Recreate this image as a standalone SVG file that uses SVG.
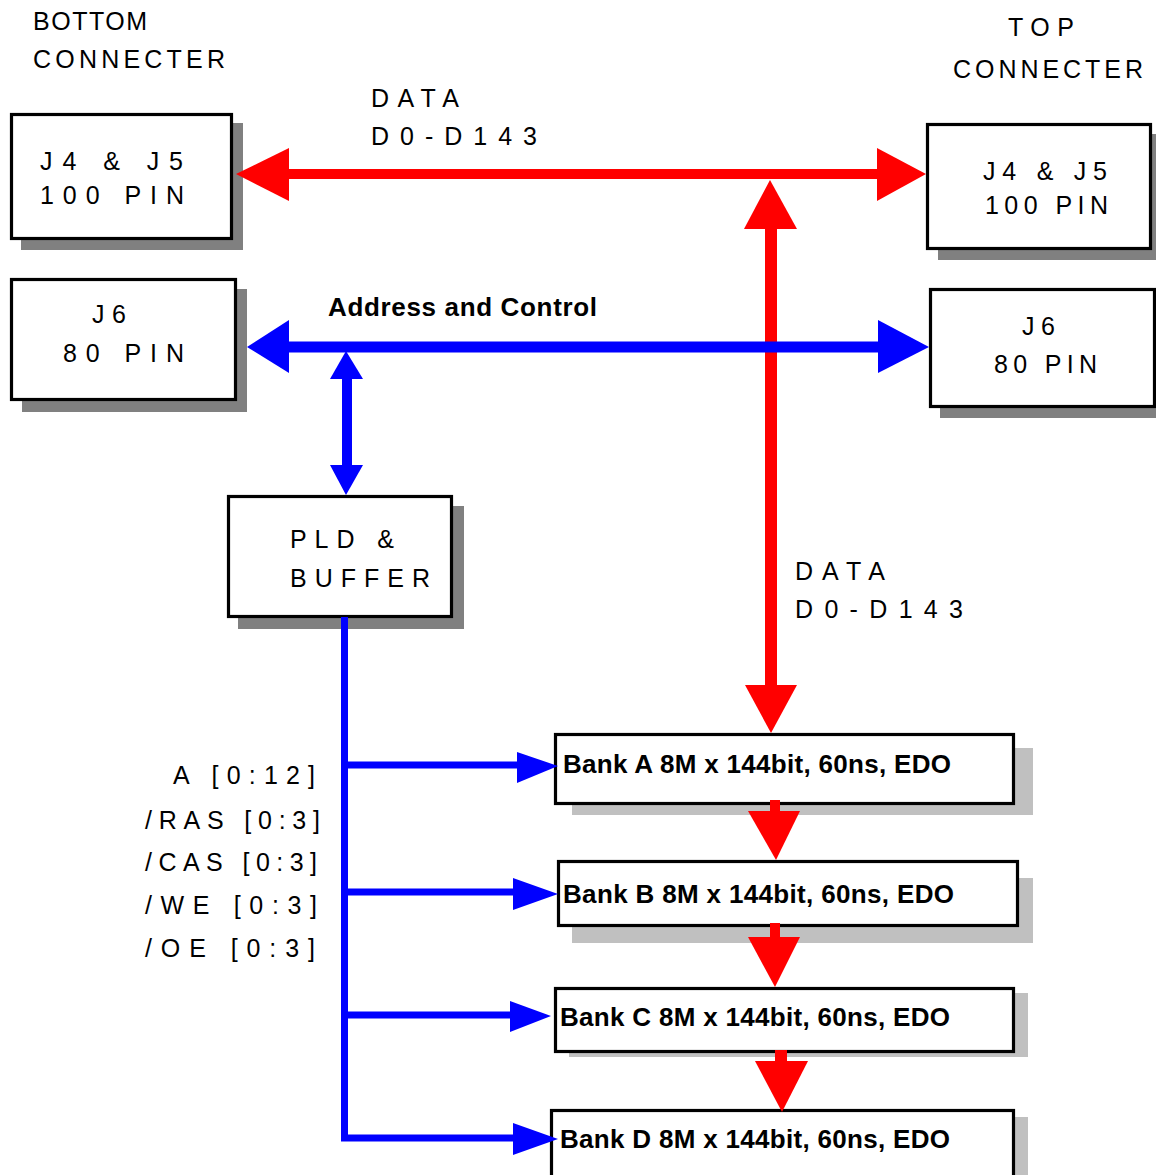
<svg xmlns="http://www.w3.org/2000/svg" width="1156" height="1175" viewBox="0 0 1156 1175">
<style>
.lbl{font-family:"Liberation Sans Narrow","Liberation Sans",Arial,sans-serif;font-size:25px;fill:#000}
.bold{font-family:"Liberation Sans",Arial,sans-serif;font-weight:bold;fill:#000}
.box{fill:#fff;stroke:#000;stroke-width:3.2}
.sh1{fill:#808080}
.sh2{fill:#c0c0c0}
.red{fill:#ff0000}
.blue{fill:#0000ff}
.rl{stroke:#ff0000;fill:none}
.bl{stroke:#0000ff;fill:none}
</style>
<rect width="1156" height="1175" fill="#fff"/>

<g id="title-bottom">
<text class="lbl" x="33" y="30" textLength="114">BOTTOM</text>
<text class="lbl" x="33" y="68" textLength="192">CONNECTER</text>
</g>
<g id="title-top">
<text class="lbl" x="1008" y="36" textLength="66">TOP</text>
<text class="lbl" x="953" y="78" textLength="190">CONNECTER</text>
</g>

<g id="bottom-j4j5">
<rect class="sh1" x="21" y="123" width="222" height="127"/>
<rect class="box" x="11.5" y="114.5" width="220" height="124"/>
<text class="lbl" x="40" y="170" textLength="143">J4 &amp; J5</text>
<text class="lbl" x="40" y="204" textLength="144">100 PIN</text>
</g>

<g id="top-j4j5">
<rect class="sh1" x="938" y="134" width="218" height="126"/>
<rect class="box" x="927.5" y="124.5" width="223" height="124"/>
<text class="lbl" x="983" y="180" textLength="124">J4 &amp; J5</text>
<text class="lbl" x="985" y="214" textLength="123">100 PIN</text>
</g>

<g id="bottom-j6">
<rect class="sh1" x="22" y="289" width="225" height="123"/>
<rect class="box" x="11.5" y="279.5" width="224" height="120"/>
<text class="lbl" x="92" y="323" textLength="34">J6</text>
<text class="lbl" x="63" y="362" textLength="121">80 PIN</text>
</g>

<g id="top-j6">
<rect class="sh1" x="940" y="298" width="216" height="120"/>
<rect class="box" x="930.5" y="289.5" width="224" height="117"/>
<text class="lbl" x="1022" y="335" textLength="33">J6</text>
<text class="lbl" x="994" y="373" textLength="103">80 PIN</text>
</g>

<g id="pld-buffer">
<rect class="sh1" x="238" y="506" width="226" height="123"/>
<rect class="box" x="228.5" y="496.5" width="223" height="120"/>
<text class="lbl" x="290" y="548" textLength="104">PLD &amp;</text>
<text class="lbl" x="290" y="587" textLength="140">BUFFER</text>
</g>

<g id="bank-a">
<rect class="sh2" x="572" y="748" width="461" height="67"/>
<rect class="box" x="555.5" y="734.5" width="458" height="69"/>
<text class="bold" x="563" y="773" font-size="26" textLength="388">Bank A 8M x 144bit, 60ns, EDO</text>
</g>
<g id="bank-b">
<rect class="sh2" x="572" y="878" width="461" height="65"/>
<rect class="box" x="558.5" y="861.5" width="459" height="64"/>
<text class="bold" x="563" y="903" font-size="26" textLength="391">Bank B 8M x 144bit, 60ns, EDO</text>
</g>
<g id="bank-c">
<rect class="sh2" x="569" y="993" width="459" height="64"/>
<rect class="box" x="555.5" y="988.5" width="458" height="63"/>
<text class="bold" x="560" y="1026" font-size="26" textLength="390">Bank C 8M x 144bit, 60ns, EDO</text>
</g>
<g id="bank-d">
<rect class="sh2" x="569" y="1117" width="459" height="70"/>
<rect class="box" x="551.5" y="1110.5" width="462" height="80"/>
<text class="bold" x="560" y="1148" font-size="26" textLength="390">Bank D 8M x 144bit, 60ns, EDO</text>
</g>

<g id="labels">
<text class="lbl" x="371" y="107" textLength="88">DATA</text>
<text class="lbl" x="371" y="145" textLength="166">D0-D143</text>
<text class="lbl" x="795" y="580" textLength="90">DATA</text>
<text class="lbl" x="795" y="618" textLength="168">D0-D143</text>
<text class="bold" x="328" y="316" font-size="26" textLength="269">Address and Control</text>
<text class="lbl" x="173" y="784" textLength="142">A [0:12]</text>
<text class="lbl" x="145" y="829" textLength="175">/RAS [0:3]</text>
<text class="lbl" x="145" y="871" textLength="172">/CAS [0:3]</text>
<text class="lbl" x="145" y="914" textLength="172">/WE [0:3]</text>
<text class="lbl" x="145" y="957" textLength="170">/OE [0:3]</text>
</g>

<g id="connectors">
<!-- red data bus -->
<line class="rl" x1="280" y1="174" x2="885" y2="174" stroke-width="10"/>
<polygon class="red" points="236,174 289,148 289,201"/>
<polygon class="red" points="926,174 877,148 877,201"/>
<line class="rl" x1="771" y1="225" x2="771" y2="690" stroke-width="12"/>
<polygon class="red" points="770,180 744,229 797,229"/>
<polygon class="red" points="771,733 745,685 797,685"/>
<!-- bank chain -->
<line class="rl" x1="775" y1="800" x2="775" y2="815" stroke-width="10"/>
<polygon class="red" points="776,860 748,811 800,811"/>
<line class="rl" x1="775" y1="923" x2="775" y2="941" stroke-width="10"/>
<polygon class="red" points="775,987 748,937 800,937"/>
<line class="rl" x1="781" y1="1050" x2="781" y2="1065" stroke-width="12"/>
<polygon class="red" points="782,1112 755,1061 808,1061"/>
<!-- blue address bus -->
<line class="bl" x1="280" y1="347" x2="885" y2="347" stroke-width="11"/>
<polygon class="blue" points="247,347 289,320 289,373"/>
<polygon class="blue" points="929,347 878,320 878,373"/>
<line class="bl" x1="347" y1="370" x2="347" y2="470" stroke-width="10"/>
<polygon class="blue" points="346,351 330,379 363,379"/>
<polygon class="blue" points="346,495 330,465 363,465"/>
<!-- PLD to banks -->
<polyline class="bl" points="344.5,617 344.5,1138 520,1138" stroke-width="7"/>
<line class="bl" x1="344" y1="765" x2="522" y2="765" stroke-width="7"/>
<line class="bl" x1="344" y1="892" x2="518" y2="892" stroke-width="7"/>
<line class="bl" x1="344" y1="1015" x2="515" y2="1015" stroke-width="7"/>
<polygon class="blue" points="558,766 517,752 517,783"/>
<polygon class="blue" points="558,894 513,878 513,910"/>
<polygon class="blue" points="551,1016 510,1001 510,1032"/>
<polygon class="blue" points="558,1139 513,1123 513,1155"/>
</g>
</svg>
